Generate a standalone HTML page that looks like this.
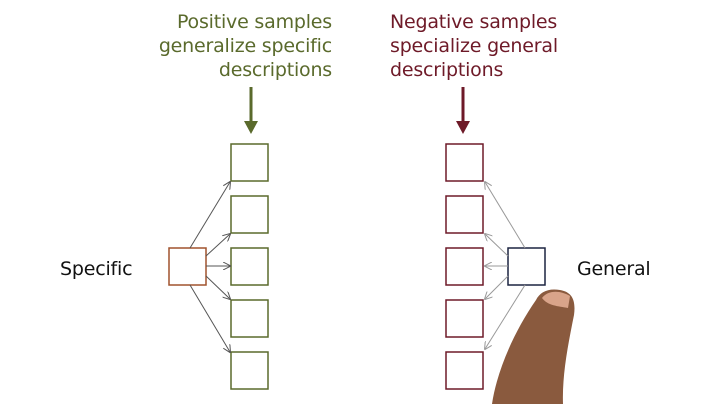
<!DOCTYPE html>
<html><head><style>
html,body{margin:0;padding:0;background:#fff;}
body{width:720px;height:404px;position:relative;overflow:hidden;font-family:"DejaVu Sans","Liberation Sans",sans-serif;}
.t{position:absolute;font-size:19px;line-height:24px;letter-spacing:-0.2px;}
</style></head><body>
<div class="t" style="right:388px;top:10px;text-align:right;color:#5a6a2c;">Positive samples<br>generalize specific<br>descriptions</div>
<div class="t" style="left:390px;top:10px;color:#6e1a28;">Negative samples<br>specialize general<br>descriptions</div>
<div class="t" style="left:60px;top:257px;color:#111;">Specific</div>
<div class="t" style="left:577px;top:257px;color:#111;">General</div>
<svg width="720" height="404" style="position:absolute;left:0;top:0">
<defs>
<marker id="ag" markerWidth="8" markerHeight="8" refX="7" refY="4" orient="auto"><path d="M0,0 L8,4 L0,8" fill="none" stroke="#555" stroke-width="1"/></marker>
<marker id="ar" markerWidth="8" markerHeight="8" refX="7" refY="4" orient="auto"><path d="M0,0 L8,4 L0,8" fill="none" stroke="#999" stroke-width="1"/></marker>
</defs>
<line x1="251" y1="87" x2="251" y2="128" stroke="#5a6a2c" stroke-width="3"/>
<path d="M244,121 L251,134 L258,121 Z" fill="#5a6a2c"/>
<line x1="463" y1="87" x2="463" y2="128" stroke="#6e1a28" stroke-width="3"/>
<path d="M456,121 L463,134 L470,121 Z" fill="#6e1a28"/>
<g fill="none" stroke="#5a6a2c" stroke-width="1.5">
<rect x="231" y="144" width="37" height="37"/><rect x="231" y="196" width="37" height="37"/>
<rect x="231" y="248" width="37" height="37"/><rect x="231" y="300" width="37" height="37"/>
<rect x="231" y="352" width="37" height="37"/></g>
<rect x="169" y="248" width="37" height="37" fill="none" stroke="#a0522d" stroke-width="1.5"/>
<g stroke="#555" stroke-width="1" marker-end="url(#ag)">
<line x1="190" y1="248" x2="230" y2="182"/><line x1="206" y1="256" x2="230" y2="234"/>
<line x1="206" y1="266" x2="230" y2="266"/><line x1="206" y1="276" x2="230" y2="299"/>
<line x1="190" y1="285" x2="230" y2="352"/></g>
<g fill="none" stroke="#6e1a28" stroke-width="1.5">
<rect x="446" y="144" width="37" height="37"/><rect x="446" y="196" width="37" height="37"/>
<rect x="446" y="248" width="37" height="37"/><rect x="446" y="300" width="37" height="37"/>
<rect x="446" y="352" width="37" height="37"/></g>
<rect x="508" y="248" width="37" height="37" fill="none" stroke="#1c2440" stroke-width="1.5"/>
<g stroke="#999" stroke-width="1" marker-end="url(#ar)">
<line x1="525" y1="248" x2="485" y2="182"/><line x1="508" y1="256" x2="485" y2="234"/>
<line x1="508" y1="266" x2="485" y2="266"/><line x1="508" y1="276" x2="485" y2="299"/>
<line x1="525" y1="285" x2="485" y2="349"/></g>
<path d="M492,404 C497,370 515,330 536,300 C540,292 548,288 560,290 C572,292 576,300 574,315 C568,345 562,375 563,404 Z" fill="#8a5a3e"/>
<path d="M542,298 C548,290 560,290 570,296 L568,308 C558,306 548,306 542,298 Z" fill="#d9a48a"/>
</svg>
</body></html>
